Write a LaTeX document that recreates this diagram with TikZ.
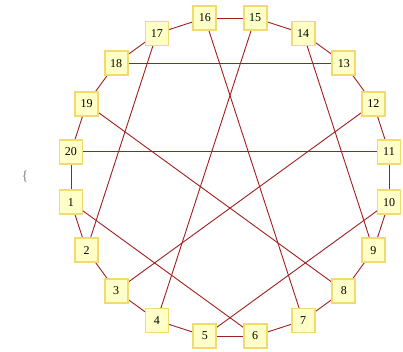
\documentclass[tikz,border=0pt]{standalone}
\usepackage{fontspec}
\setmainfont{Liberation Serif}
\usetikzlibrary{backgrounds}
\definecolor{edgecol}{RGB}{160,30,30}
\definecolor{boxfill}{RGB}{255,255,200}
\definecolor{boxdraw}{RGB}{242,218,110}
\begin{document}
\begin{tikzpicture}[x=1pt,y=1pt,
  vbox/.style={draw=boxdraw,fill=boxfill,line width=1.8pt,minimum width=23pt,minimum height=24pt,inner sep=2pt,font=\fontsize{12}{14}\selectfont},
  edge/.style={draw=edgecol,line width=0.9pt}]
\useasboundingbox (0,0) rectangle (403,352);
\node[text=gray,font=\fontsize{14}{16}\selectfont] (brace) at (25,175) {\{};
\foreach \k in {1,...,20}{
  \pgfmathsetmacro{\ang}{18*\k-189}
  \node[vbox] (n\k) at ({230+161*cos(\ang)},{175+161*sin(\ang)}) {\k};
}
\begin{scope}[on background layer]
\foreach \a/\b in {1/2,2/3,3/4,4/5,5/6,6/7,7/8,8/9,9/10,10/11,11/12,12/13,13/14,14/15,15/16,16/17,17/18,18/19,19/20,20/1,
  18/13,20/11,17/2,16/7,15/4,14/9,19/8,12/3,1/6,10/5}{
  \draw[edge] (n\a.center) -- (n\b.center);
}
\end{scope}
\end{tikzpicture}
\end{document}
